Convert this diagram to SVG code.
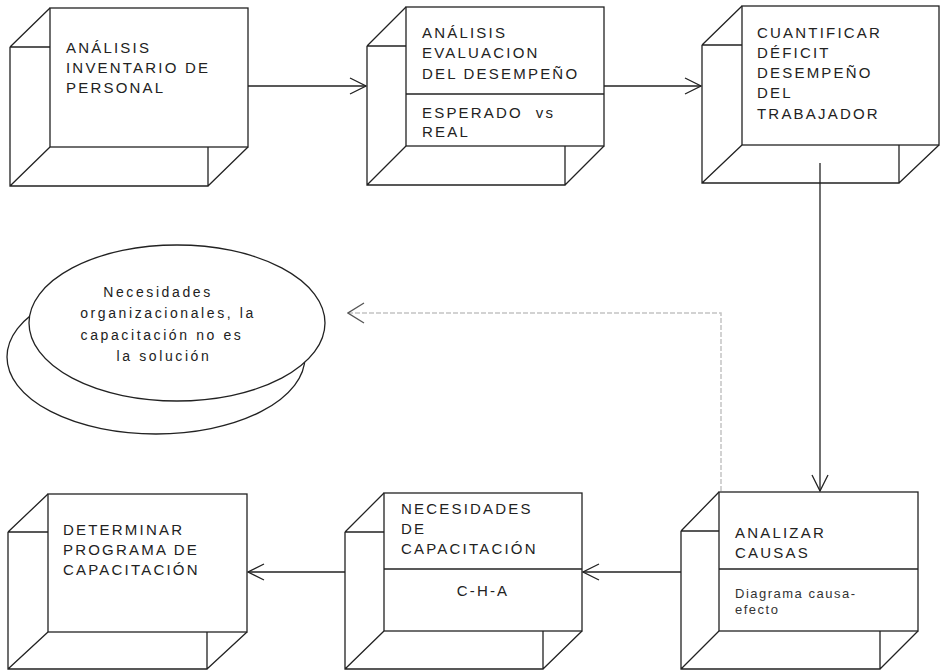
<svg xmlns="http://www.w3.org/2000/svg" width="941" height="670" viewBox="0 0 941 670">
<style>
  .edge { fill: none; stroke: #222; stroke-width: 1.3; stroke-linejoin: miter; }
  .face { fill: #fff; stroke: #222; stroke-width: 1.3; }
  .t { font-family: "Liberation Sans", Arial, sans-serif; font-size: 15px; letter-spacing: 2.2px; fill: #222; }
  .s { font-family: "Liberation Sans", Arial, sans-serif; font-size: 13px; letter-spacing: 1.5px; fill: #333; }
  .e { font-family: "Liberation Sans", Arial, sans-serif; font-size: 14px; letter-spacing: 2.6px; fill: #222; text-anchor: middle; }
  .conn { fill: none; stroke: #222; stroke-width: 1.3; }
  .dot { fill: none; stroke: #c4c4c4; stroke-width: 1.5; stroke-dasharray: 5 2; }
</style>
<defs>
  <marker id="arr" viewBox="0 0 18 18" refX="17" refY="9" markerWidth="18" markerHeight="18" markerUnits="userSpaceOnUse" orient="auto">
    <path d="M1,1 L17,9 L1,17" fill="none" stroke="#222" stroke-width="1.3"/>
  </marker>
  <marker id="arrg" viewBox="0 0 18 22" refX="17" refY="11" markerWidth="18" markerHeight="22" markerUnits="userSpaceOnUse" orient="auto">
    <path d="M1,1 L17,11 L1,21" fill="none" stroke="#555" stroke-width="1.3"/>
  </marker>
</defs>
<rect width="941" height="670" fill="#fff"/>

<g id="connectors">
  <line class="conn" x1="248" y1="86" x2="366" y2="86" marker-end="url(#arr)"/>
  <line class="conn" x1="604" y1="86" x2="701" y2="86" marker-end="url(#arr)"/>
  <line class="conn" x1="820" y1="163" x2="820" y2="491" marker-end="url(#arr)"/>
  <line class="conn" x1="681" y1="572" x2="583" y2="572" marker-end="url(#arr)"/>
  <line class="conn" x1="345" y1="572" x2="248" y2="572" marker-end="url(#arr)"/>
  <polyline class="dot" points="721,491 721,313 348,313" marker-end="url(#arrg)"/>
</g>

<g id="node-inventario">
  <path class="edge" d="M10,47 L50,47 M10,47 L10,186 L208,186 L208,147 M10,47 L50,8 M10,186 L50,147 M208,186 L248,147"/>
  <rect class="face" x="50" y="8" width="198" height="139"/>
  <text class="t" x="66" y="53">ANÁLISIS</text>
  <text class="t" x="66" y="73">INVENTARIO DE</text>
  <text class="t" x="66" y="93">PERSONAL</text>
</g>

<g id="node-evaluacion">
  <path class="edge" d="M367,46 L406,46 M367,46 L367,185 L565,185 L565,146 M367,46 L406,7 M367,185 L406,146 M565,185 L604,146"/>
  <rect class="face" x="406" y="7" width="198" height="139"/>
  <line class="edge" x1="406" y1="94" x2="604" y2="94"/>
  <text class="t" x="422" y="38">ANÁLISIS</text>
  <text class="t" x="422" y="58">EVALUACION</text>
  <text class="t" x="422" y="79">DEL DESEMPEÑO</text>
  <text class="t" x="422" y="118" xml:space="preserve">ESPERADO  vs</text>
  <text class="t" x="422" y="137">REAL</text>
</g>

<g id="node-cuantificar">
  <path class="edge" d="M702,45 L742,45 M702,45 L702,183 L899,183 L899,145 M702,45 L742,6 M702,183 L742,145 M899,183 L939,145"/>
  <rect class="face" x="742" y="6" width="197" height="139"/>
  <text class="t" x="757" y="38">CUANTIFICAR</text>
  <text class="t" x="757" y="58">DÉFICIT</text>
  <text class="t" x="757" y="78">DESEMPEÑO</text>
  <text class="t" x="757" y="98">DEL</text>
  <text class="t" x="757" y="119">TRABAJADOR</text>
</g>

<g id="node-organizacionales">
  <ellipse class="face" cx="156" cy="357" rx="149" ry="77"/>
  <ellipse class="face" cx="177" cy="323" rx="148" ry="78"/>
  <text class="e" x="158" y="297">Necesidades</text>
  <text class="e" x="168" y="318">organizacionales, la</text>
  <text class="e" x="162" y="340">capacitación no es</text>
  <text class="e" x="164" y="361">la solución</text>
</g>

<g id="node-analizar">
  <path class="edge" d="M681,531 L719,531 M681,531 L681,669 L880,669 L880,631 M681,531 L719,492 M681,669 L719,631 M880,669 L918,631"/>
  <rect class="face" x="719" y="492" width="199" height="139"/>
  <line class="edge" x1="719" y1="569" x2="918" y2="569"/>
  <text class="t" x="735" y="538">ANALIZAR</text>
  <text class="t" x="735" y="558">CAUSAS</text>
  <text class="s" x="735" y="598">Diagrama causa-</text>
  <text class="s" x="735" y="614">efecto</text>
</g>

<g id="node-necesidades">
  <path class="edge" d="M345,532 L384,532 M345,532 L345,669 L543,669 L543,631 M345,532 L384,493 M345,669 L384,631 M543,669 L582,631"/>
  <rect class="face" x="384" y="493" width="198" height="138"/>
  <line class="edge" x1="384" y1="569" x2="582" y2="569"/>
  <text class="t" x="401" y="514">NECESIDADES</text>
  <text class="t" x="401" y="534">DE</text>
  <text class="t" x="401" y="554">CAPACITACIÓN</text>
  <text class="t" x="483" y="596" text-anchor="middle">C-H-A</text>
</g>

<g id="node-programa">
  <path class="edge" d="M8,532 L48,532 M8,532 L8,669 L207,669 L207,632 M8,532 L48,494 M8,669 L48,632 M207,669 L247,632"/>
  <rect class="face" x="48" y="494" width="199" height="138"/>
  <text class="t" x="63" y="535">DETERMINAR</text>
  <text class="t" x="63" y="555">PROGRAMA DE</text>
  <text class="t" x="63" y="575">CAPACITACIÓN</text>
</g>
</svg>
